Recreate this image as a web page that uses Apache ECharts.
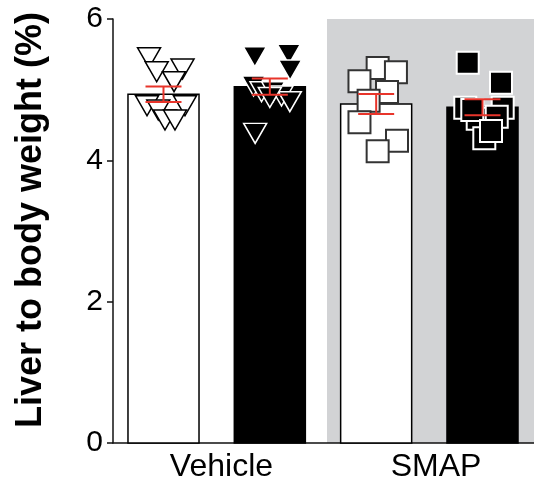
<!DOCTYPE html>
<html>
<head>
<meta charset="utf-8">
<script src="https://cdn.jsdelivr.net/npm/echarts@6/dist/echarts.min.js"></script>
<style>
  html, body { margin: 0; padding: 0; background: #fff; }
  #chart { width: 534px; height: 492px; }
</style>
</head>
<body>
<div id="chart"></div>
<script>
// ---- data ----
const xLabels = ['Vehicle', 'SMAP'];
const yTicks = [0, 2, 4, 6];
const barMeans = [4.934, 5.042, 4.797, 4.750];
const barSEM = [0.110, 0.115, 0.140, 0.113];

const vehWhiteValues = [5.452, 5.254, 5.292, 5.113, 4.773, 4.773, 4.712, 4.571, 4.571];
const vehWhiteJitter = [-0.136, -0.064, 0.179, 0.099, -0.155, 0.202, -0.049, 0.014, 0.108];

const vehBlackValues = [5.466, 5.500, 5.278, 5.052, 4.971, 4.971, 4.910, 4.830, 4.890, 4.382];
const vehBlackJitter = [-0.141, 0.179, 0.191, -0.153, -0.078, 0.031, 0.110, 0.188, 0.000, -0.138];

const smapWhiteValues = [5.306, 5.247, 5.118, 4.967, 4.844, 4.540, 4.278, 4.128];
const smapWhiteJitter = [0.014, 0.186, -0.157, 0.102, -0.071, -0.157, 0.196, 0.014];

const smapBlackValues = [5.382, 5.099, 4.745, 4.745, 4.589, 4.618, 4.311, 4.712, 4.415];
const smapBlackJitter = [-0.139, 0.174, -0.162, 0.190, -0.045, 0.134, 0.017, -0.096, 0.080];

const xLabelAt = [0.545, 2.563];
const smapRegion = [1.5377, 3.4844];

// ---- chart ----
const FONT = '"Liberation Sans", Arial, Helvetica, sans-serif';
const chart = echarts.init(document.getElementById('chart'), null, { renderer: 'canvas' });

function pts(values, jitter, idx) {
  return values.map((v, k) => [idx + jitter[k], v]);
}
const BAR_HALF = 0.334; // half bar width in axis units (~71px)

const option = {
  animation: false,
  backgroundColor: '#ffffff',
  grid: { left: 113, right: 0, top: 19, bottom: 49, containLabel: false },
  xAxis: {
    type: 'value', min: -0.4749, max: 3.4844,
    splitLine: { show: false },
    axisTick: { show: false },
    axisLine: { show: true, onZero: false, lineStyle: { color: '#111', width: 1.5 } },
    axisLabel: {
      customValues: xLabelAt,
      formatter: (v) => (v < 1.5 ? xLabels[0] : xLabels[1]),
      fontSize: 32, color: '#000', fontFamily: FONT, margin: 8
    }
  },
  yAxis: {
    type: 'value', min: yTicks[0], max: yTicks[yTicks.length - 1], interval: 2,
    splitLine: { show: false },
    axisLine: { show: true, onZero: false, lineStyle: { color: '#111', width: 1.5 } },
    axisTick: { show: true, length: 6, lineStyle: { color: '#111', width: 1.5 } },
    axisLabel: { fontSize: 30, color: '#000', fontFamily: FONT, margin: 10 }
  },
  graphic: [{
    type: 'text', x: 31, y: 220, rotation: Math.PI / 2,
    style: {
      text: 'Liver to body weight (%)', fill: '#000',
      fontSize: 36, fontWeight: 'bold', fontFamily: FONT,
      align: 'center', verticalAlign: 'middle'
    }
  }],
  series: [
    {
      type: 'custom', z: 0, silent: true, clip: true,
      encode: { x: [0, 1] },
      data: [[smapRegion[0], smapRegion[1]]],
      renderItem: (params, api) => {
        const p0 = api.coord([api.value(0), 6]);
        const p1 = api.coord([api.value(1), 0]);
        return { type: 'rect', shape: { x: p0[0], y: p0[1], width: p1[0] - p0[0], height: p1[1] - p0[1] },
                 style: { fill: '#d2d3d5' } };
      }
    },
    {
      type: 'custom', z: 2, silent: true,
      encode: { x: 0, y: 1 },
      data: barMeans.map((v, i) => [i, v]),
      renderItem: (params, api) => {
        const i = api.value(0);
        const tl = api.coord([i - BAR_HALF, api.value(1)]);
        const br = api.coord([i + BAR_HALF, 0]);
        return {
          type: 'rect',
          shape: { x: tl[0], y: tl[1], width: br[0] - tl[0], height: br[1] - tl[1] },
          style: { fill: i % 2 ? '#000' : '#fff', stroke: '#000', lineWidth: 1.5 }
        };
      }
    },
    {
      type: 'scatter', z: 3, symbol: 'triangle', symbolRotate: 180, symbolSize: [23, 20],
      itemStyle: { color: '#fff', borderColor: '#000', borderWidth: 1.5, opacity: 1 },
      data: pts(vehWhiteValues, vehWhiteJitter, 0)
    },
    {
      type: 'scatter', z: 3, symbol: 'triangle', symbolRotate: 180, symbolSize: [23, 20],
      itemStyle: { color: '#000', borderColor: '#fff', borderWidth: 1.5, opacity: 1 },
      data: pts(vehBlackValues, vehBlackJitter, 1)
    },
    {
      type: 'scatter', z: 3, symbol: 'rect', symbolSize: 22,
      itemStyle: { color: '#fff', borderColor: '#333', borderWidth: 2, opacity: 1 },
      data: pts(smapWhiteValues, smapWhiteJitter, 2)
    },
    {
      type: 'scatter', z: 3, symbol: 'rect', symbolSize: 22,
      itemStyle: { color: '#000', borderColor: '#fff', borderWidth: 2, opacity: 1 },
      data: pts(smapBlackValues, smapBlackJitter, 3)
    },
    {
      type: 'custom', z: 4, silent: true,
      encode: { x: 0, y: [1, 2] },
      data: barMeans.map((m, i) => [i, m - barSEM[i], m + barSEM[i]]),
      renderItem: (params, api) => {
        const lo = api.coord([api.value(0), api.value(1)]);
        const hi = api.coord([api.value(0), api.value(2)]);
        const hw = 18;
        const st = { stroke: '#e8352b', lineWidth: 2 };
        return {
          type: 'group',
          children: [
            { type: 'line', shape: { x1: lo[0], y1: lo[1], x2: hi[0], y2: hi[1] }, style: st },
            { type: 'line', shape: { x1: hi[0] - hw, y1: hi[1], x2: hi[0] + hw, y2: hi[1] }, style: st },
            { type: 'line', shape: { x1: lo[0] - hw, y1: lo[1], x2: lo[0] + hw, y2: lo[1] }, style: st }
          ]
        };
      }
    }
  ]
};
chart.setOption(option);
</script>
</body>
</html>
